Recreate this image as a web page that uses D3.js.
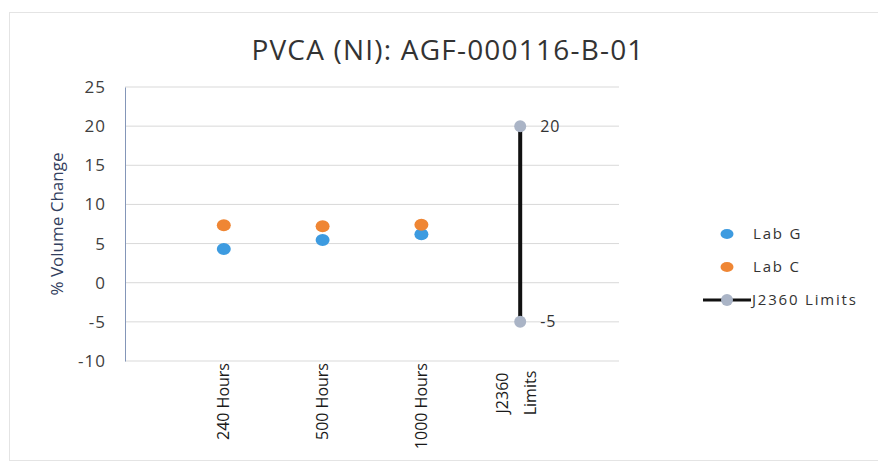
<!DOCTYPE html>
<html>
<head>
<meta charset="utf-8">
<script src="https://cdn.jsdelivr.net/npm/d3@7"></script>
<style>
  body { margin: 0; background: #fff; }
  text { font-family: "Open Sans", "Liberation Sans", sans-serif; }
</style>
</head>
<body>
<div id="chart"></div>
<script>
// data
const categories = ['240 Hours', '500 Hours', '1000 Hours', 'J2360 Limits'];
const labG = [4.3, 5.45, 6.2];
const labC = [7.35, 7.2, 7.4];
const limits = [20, -5];
const yTicks = [-10, -5, 0, 5, 10, 15, 20, 25];

const W = 878, H = 463;
const margin = { top: 87, right: 259, bottom: 102, left: 125 };
const width = W - margin.left - margin.right;
const height = H - margin.top - margin.bottom;

const svg = d3.select('#chart').append('svg')
  .attr('width', W)
  .attr('height', H);

// faint outer frame
svg.append('rect')
  .attr('x', 9.5).attr('y', 12.5)
  .attr('width', 872).attr('height', 448)
  .attr('fill', 'none')
  .attr('stroke', '#e4e4e4');

svg.append('text')
  .attr('x', 448).attr('y', 60)
  .attr('text-anchor', 'middle')
  .attr('font-size', 28)
  .attr('letter-spacing', 1.2)
  .attr('fill', '#333')
  .text('PVCA (NI): AGF-000116-B-01');

const g = svg.append('g')
  .attr('transform', `translate(${margin.left},${margin.top})`);

const x = d3.scaleLinear().domain([0, 5]).range([0, width]);
const y = d3.scaleLinear().domain([-10, 25]).range([height, 0]);

// gridlines
g.selectAll('.grid')
  .data(yTicks)
  .join('line')
  .attr('class', 'grid')
  .attr('x1', 0).attr('x2', width)
  .attr('y1', d => y(d)).attr('y2', d => y(d))
  .attr('stroke', '#d9d9d9')
  .attr('stroke-width', 1);

// y axis
const yAxis = g.append('g')
  .call(d3.axisLeft(y).tickValues(yTicks).tickFormat(d => String(d)).tickSize(0).tickPadding(19));
yAxis.select('.domain').attr('stroke', '#8496b8');
yAxis.selectAll('text')
  .attr('font-size', 17)
  .attr('letter-spacing', 1)
  .attr('fill', '#404040')
  .style('font-family', '"Open Sans", sans-serif');

svg.append('text')
  .attr('transform', `translate(63,${margin.top + height / 2}) rotate(-90)`)
  .attr('text-anchor', 'middle')
  .attr('font-size', 17)
  .attr('fill', '#33405e')
  .text('% Volume Change');

// x labels (rotated)
categories.forEach((c, i) => {
  const words = i === 3 ? ['J2360', 'Limits'] : [c];
  const t = g.append('text')
    .attr('transform', `translate(${x(i + 1)},${height + 2}) rotate(-90)`)
    .attr('text-anchor', 'end')
    .attr('font-size', 16)
    .attr('fill', '#1a1a1a');
  if (words.length === 1) {
    t.attr('dy', '0.35em').text(c);
  } else {
    t.attr('text-anchor', 'middle');
    t.append('tspan').attr('x', -30).attr('dy', '-0.75em').text(words[0]);
    t.append('tspan').attr('x', -30).attr('dy', '1.75em').text(words[1]);
  }
});

// limits line
g.append('line')
  .attr('x1', x(4)).attr('x2', x(4))
  .attr('y1', y(limits[0])).attr('y2', y(limits[1]))
  .attr('stroke', '#111')
  .attr('stroke-width', 4);

g.selectAll('.limdot')
  .data(limits)
  .join('circle')
  .attr('class', 'limdot')
  .attr('cx', x(4)).attr('cy', d => y(d))
  .attr('r', 6)
  .attr('fill', '#aab4c6');

g.selectAll('.limlabel')
  .data(limits)
  .join('text')
  .attr('class', 'limlabel')
  .attr('x', x(4) + 20).attr('y', d => y(d))
  .attr('dy', '0.35em')
  .attr('font-size', 16)
  .attr('letter-spacing', 1)
  .attr('fill', '#333')
  .text(d => d);

// series dots
const series = [
  { name: 'Lab G', values: labG, color: '#3d9be0' },
  { name: 'Lab C', values: labC, color: '#ef8634' }
];

series.forEach(s => {
  g.selectAll(null)
    .data(s.values)
    .join('ellipse')
    .attr('cx', (d, i) => x(i + 1))
    .attr('cy', d => y(d))
    .attr('rx', 7).attr('ry', 6)
    .attr('fill', s.color);
});

// legend
const legend = svg.append('g').attr('transform', 'translate(727,234)');
series.forEach((s, i) => {
  legend.append('ellipse')
    .attr('cx', 0).attr('cy', i * 33)
    .attr('rx', 6.5).attr('ry', 5)
    .attr('fill', s.color);
  legend.append('text')
    .attr('x', 26).attr('y', i * 33)
    .attr('dy', '0.35em')
    .attr('font-size', 15)
    .attr('letter-spacing', 1.8)
    .attr('fill', '#333')
    .text(s.name);
});
legend.append('line')
  .attr('x1', -24).attr('x2', 24)
  .attr('y1', 66).attr('y2', 66)
  .attr('stroke', '#111').attr('stroke-width', 3);
legend.append('circle')
  .attr('cx', 0).attr('cy', 66).attr('r', 6)
  .attr('fill', '#aab4c6');
legend.append('text')
  .attr('x', 25).attr('y', 66)
  .attr('dy', '0.35em')
  .attr('font-size', 15)
  .attr('letter-spacing', 1.8)
  .attr('fill', '#333')
  .text('J2360 Limits');
</script>
</body>
</html>
